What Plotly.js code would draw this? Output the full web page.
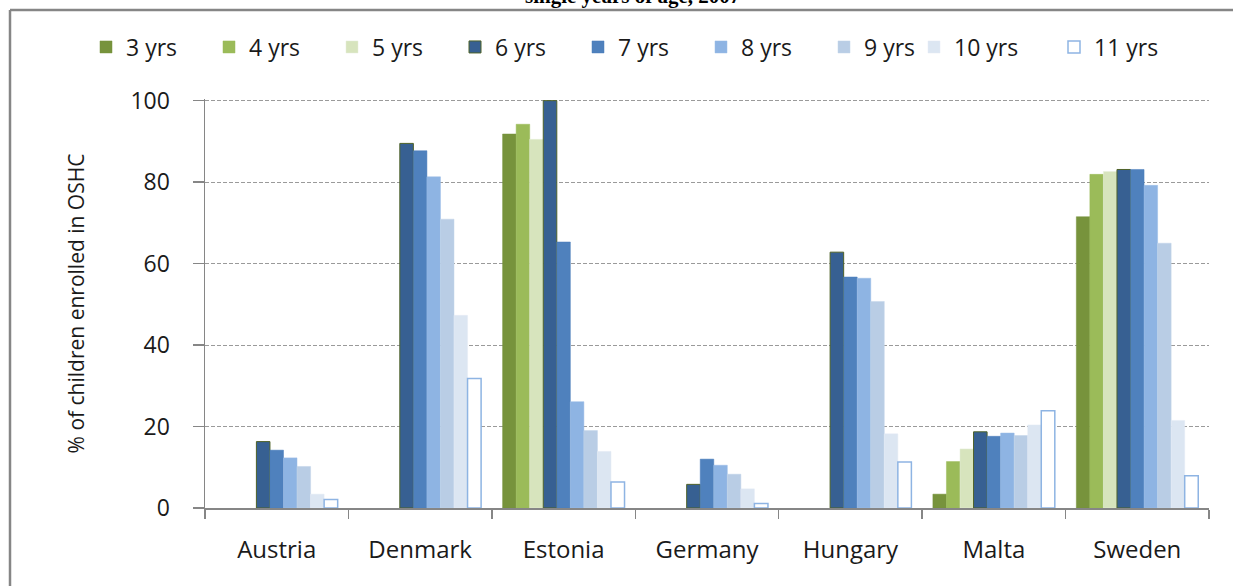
<!DOCTYPE html>
<html>
<head>
<meta charset="utf-8">
<script src="https://cdn.plot.ly/plotly-3.0.1.min.js"></script>
<style>
  html, body { margin: 0; padding: 0; background: #fff; }
  #chart { width: 1233px; height: 586px; }
</style>
</head>
<body>
<div id="chart"></div>
<script>
const countries = ["Austria", "Denmark", "Estonia", "Germany", "Hungary", "Malta", "Sweden"];
const seriesNames = ["3 yrs", "4 yrs", "5 yrs", "6 yrs", "7 yrs", "8 yrs", "9 yrs", "10 yrs", "11 yrs"];

const yrs3  = [null, null, 91.8, null, null, 3.4, 71.5];
const yrs4  = [null, null, 94.2, null, null, 11.4, 81.9];
const yrs5  = [null, null, 90.5, null, null, 14.5, 82.6];
const yrs6  = [16.3, 89.5, 100.0, 5.8, 62.8, 18.7, 83.1];
const yrs7  = [14.2, 87.7, 65.3, 12.0, 56.7, 17.6, 83.1];
const yrs8  = [12.3, 81.3, 26.1, 10.5, 56.4, 18.4, 79.2];
const yrs9  = [10.2, 70.9, 19.0, 8.3, 50.7, 17.8, 65.0];
const yrs10 = [3.4, 47.3, 13.9, 4.7, 18.2, 20.4, 21.5];
const yrs11 = [2.1, 31.8, 6.4, 1.1, 11.3, 23.9, 7.9];

const yTicks = [0, 20, 40, 60, 80, 100];

const allValues = [yrs3, yrs4, yrs5, yrs6, yrs7, yrs8, yrs9, yrs10, yrs11];
const fills = ["#77933C", "#9BBB59", "#D7E4BD", "#376092", "#4F81BD", "#8EB4E3", "#B9CDE5", "#DCE6F2", "#FFFFFF"];
const lines = ["#77933C", "#9BBB59", "#E6EEDA", "#4F6228", "#4A7DBA", "#9BBDE6", "#C3D4E9", "#E4EBF4", "#8EB4E3"];
const lineW = [0.5, 0.5, 0.5, 1, 0.5, 0.5, 0.5, 0.5, 1.5];

const traces = seriesNames.map((name, i) => ({
  type: "bar",
  name: name,
  x: countries,
  y: allValues[i],
  legend: i < 7 ? "legend" : "legend2",
  marker: { color: fills[i], line: { color: lines[i], width: lineW[i] } },
  hoverinfo: "x+y+name"
}));

const FONT = "'Open Sans', 'DejaVu Sans', sans-serif";
const yTop = 100.4;
const plotTop = 100.7 - (yTop - 100) * 4.076;
const plotH = 508.3 - plotTop;
const pyFromPx = px => (508.3 - px) / plotH;
const pxFromPx = px => (px - 205) / 1004;

const legendBase = {
  orientation: "h",
  xanchor: "left", xref: "container",
  y: 1 - 47 / 586, yanchor: "middle", yref: "container",
  bgcolor: "rgba(0,0,0,0)",
  font: { family: FONT, size: 23, color: "#1a1a1a" },
  entrywidthmode: "pixels",
  traceorder: "normal",
  itemclick: false
};

const layout = {
  width: 1233,
  height: 586,
  margin: { l: 205, r: 24, t: plotTop, b: 586 - 508.3 },
  paper_bgcolor: "#ffffff",
  plot_bgcolor: "#ffffff",
  barmode: "group",
  bargap: 0.15,
  bargroupgap: 0,
  showlegend: true,
  legend: Object.assign({}, legendBase, { x: 86 / 1233, entrywidth: 78 }),
  legend2: Object.assign({}, legendBase, { x: 914 / 1233, entrywidth: 95 }),
  xaxis: {
    type: "category",
    range: [-0.5, 6.5],
    showline: true,
    linecolor: "#868686",
    linewidth: 1.5,
    ticks: "outside",
    tickson: "boundaries",
    ticklen: 9,
    tickcolor: "#868686",
    tickwidth: 1.5,
    ticklabelstandoff: 20,
    showgrid: false,
    tickfont: { family: FONT, size: 24, color: "#1a1a1a" },
    fixedrange: true
  },
  yaxis: {
    range: [0, yTop],
    tickvals: yTicks,
    ticktext: yTicks.map(String),
    showline: true,
    linecolor: "#868686",
    linewidth: 1.5,
    ticks: "outside",
    ticklen: 11,
    tickcolor: "#868686",
    tickwidth: 1.5,
    ticklabelstandoff: 18,
    showgrid: true,
    gridcolor: "#9a9a9a",
    griddash: "4px,2px",
    gridwidth: 1,
    zeroline: false,
    tickfont: { family: FONT, size: 23, color: "#1a1a1a" },
    title: {
      text: "% of children enrolled in OSHC",
      font: { family: FONT, size: 21, color: "#1a1a1a" },
      standoff: 40
    },
    fixedrange: true
  },
  annotations: [
    {
      text: "<b>single years of age, 2007</b>",
      xref: "paper", yref: "paper",
      x: pxFromPx(632), y: pyFromPx(10),
      xanchor: "center", yanchor: "bottom",
      showarrow: false,
      font: { family: "'Liberation Serif', 'Times New Roman', serif", size: 21, color: "#000" }
    }
  ],
  shapes: [
    {
      type: "line", xref: "paper", yref: "paper",
      x0: pxFromPx(10), x1: pxFromPx(10), y0: pyFromPx(600), y1: pyFromPx(10),
      line: { color: "#868686", width: 2.5 }, layer: "below"
    },
    {
      type: "line", xref: "paper", yref: "paper",
      x0: pxFromPx(10), x1: pxFromPx(1300), y0: pyFromPx(10), y1: pyFromPx(10),
      line: { color: "#868686", width: 2.5 }, layer: "below"
    }
  ]
};

Plotly.newPlot("chart", traces, layout, { displayModeBar: false, staticPlot: true });
</script>
</body>
</html>
